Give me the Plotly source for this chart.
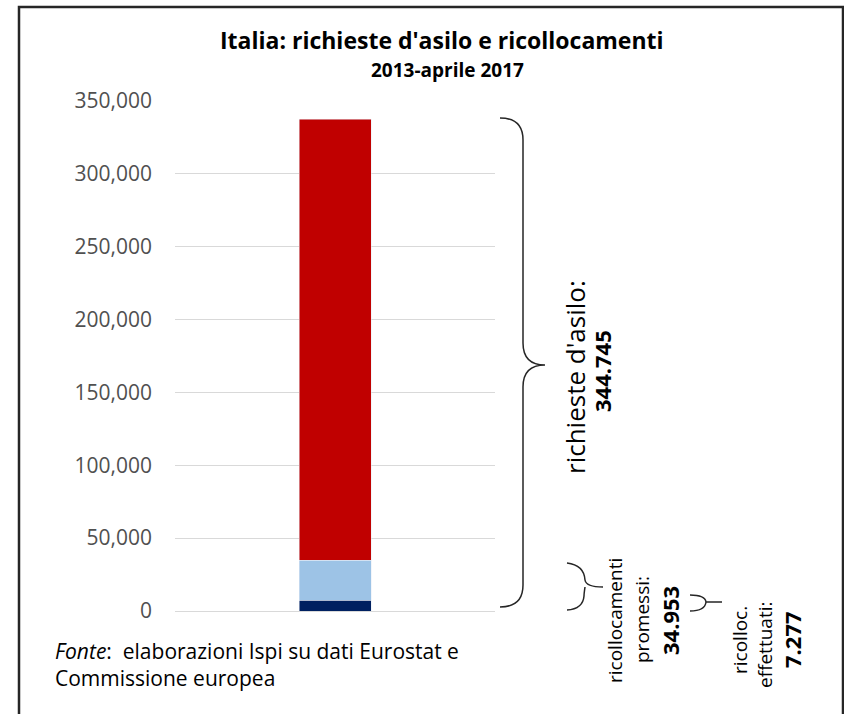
import plotly.graph_objects as go

# ---- data ----
categories = ["Italia"]
ricolloc_effettuati = [7277]          # dark navy segment
ricolloc_promessi_resto = [27676]     # light blue segment (34.953 - 7.277)
richieste_resto = [302515]            # red segment
y_ticks = [0, 50000, 100000, 150000, 200000, 250000, 300000, 350000]

W, H = 844, 714
L, R, T, B = 175, 495, 101, 611  # plot area in pixels

def px(x):
    return (x - L) / (R - L)

def py(y):
    return (B - y) / (B - T)

def path(points_cmds):
    out = []
    for cmd in points_cmds:
        if isinstance(cmd, str):
            out.append(cmd)
        else:
            out.append(f"{px(cmd[0]):.5f},{py(cmd[1]):.5f}")
    return " ".join(out)

FONT = "Open Sans"

fig = go.Figure()
fig.add_bar(x=categories, y=ricolloc_effettuati, marker_color="#002060",
            width=0.225, name="ricolloc. effettuati")
fig.add_bar(x=categories, y=ricolloc_promessi_resto, marker_color="#9DC3E6",
            width=0.225, name="ricollocamenti promessi")
fig.add_bar(x=categories, y=richieste_resto, marker_color="#C00000",
            width=0.225, name="richieste d'asilo")

fig.update_layout(
    width=W, height=H, barmode="stack", showlegend=False,
    paper_bgcolor="white", plot_bgcolor="white",
    margin=dict(l=L, r=W - R, t=T, b=H - B, pad=0),
    font=dict(family=FONT, color="#000000"),
    xaxis=dict(visible=False, range=[-0.5, 0.5]),
    yaxis=dict(range=[0, 350000], tickvals=y_ticks, tickformat=",",
               showgrid=True, gridcolor="#D9D9D9", gridwidth=1,
               zeroline=True, zerolinecolor="#D9D9D9", zerolinewidth=1,
               showline=False, ticks="", ticklabelstandoff=22,
               tickfont=dict(family=FONT, size=21, color="#505050")),
)

shapes = []
# outer border
shapes.append(dict(type="rect", xref="paper", yref="paper",
                   x0=px(19), x1=px(843), y0=py(7), y1=py(720),
                   line=dict(color="#262626", width=2.5), fillcolor="rgba(0,0,0,0)"))
# big brace
shapes.append(dict(type="path", xref="paper", yref="paper",
                   path=path(["M", (500, 118), "Q", (523, 118), (523, 140), "L", (523, 343),
                              "Q", (523, 365), (545, 365), "Q", (523, 365), (523, 387),
                              "L", (523, 585), "Q", (523, 607), (500, 607)]),
                   line=dict(color="#262626", width=1.5)))
# medium brace
shapes.append(dict(type="path", xref="paper", yref="paper",
                   path=path(["M", (567, 563), "Q", (584, 565), (585, 580), "Q", (586, 587), (603, 587),
                              "M", (585, 587), "Q", (584, 594), (584, 596), "Q", (583, 609), (567, 610)]),
                   line=dict(color="#262626", width=1.5)))
# small brace
shapes.append(dict(type="path", xref="paper", yref="paper",
                   path=path(["M", (690, 595), "Q", (705, 595), (706, 602), "L", (722, 602),
                              "M", (706, 602), "Q", (705, 611), (690, 611)]),
                   line=dict(color="#262626", width=1.5)))
fig.update_layout(shapes=shapes)

ann = []
def add(text, x, y, size, bold=False, angle=-90, xanchor="center", yanchor="middle", align="center"):
    t = f"<b>{text}</b>" if bold else text
    ann.append(dict(text=t, x=px(x), y=py(y), xref="paper", yref="paper", showarrow=False,
                    textangle=angle, xanchor=xanchor, yanchor=yanchor, align=align,
                    font=dict(family=FONT, size=size, color="#000000")))

add("Italia: richieste d'asilo e ricollocamenti", 442, 40, 23, bold=True, angle=0)
add("2013-aprile 2017", 447, 70, 19, bold=True, angle=0)

add("richieste d'asilo:", 575, 377, 26)
add("344.745", 602, 371, 22, bold=True)

add("ricollocamenti", 615, 621, 19)
add("promessi:", 642, 620, 19)
add("34.953", 670, 621, 22, bold=True)

add("ricolloc.", 740, 640, 19)
add("effettuati:", 765, 645, 19)
add("7.277", 792, 640, 22, bold=True)

ann.append(dict(text="<i>Fonte</i>:  elaborazioni Ispi su dati Eurostat e<br>Commissione europea",
                x=px(53), y=py(664), xref="paper", yref="paper", showarrow=False,
                xanchor="left", yanchor="middle", align="left",
                font=dict(family=FONT, size=21, color="#000000")))
fig.update_layout(annotations=ann)

fig.write_html("out.html", config={"displayModeBar": False},
               post_script="document.body.style.margin='0';document.body.style.overflow='hidden';")
